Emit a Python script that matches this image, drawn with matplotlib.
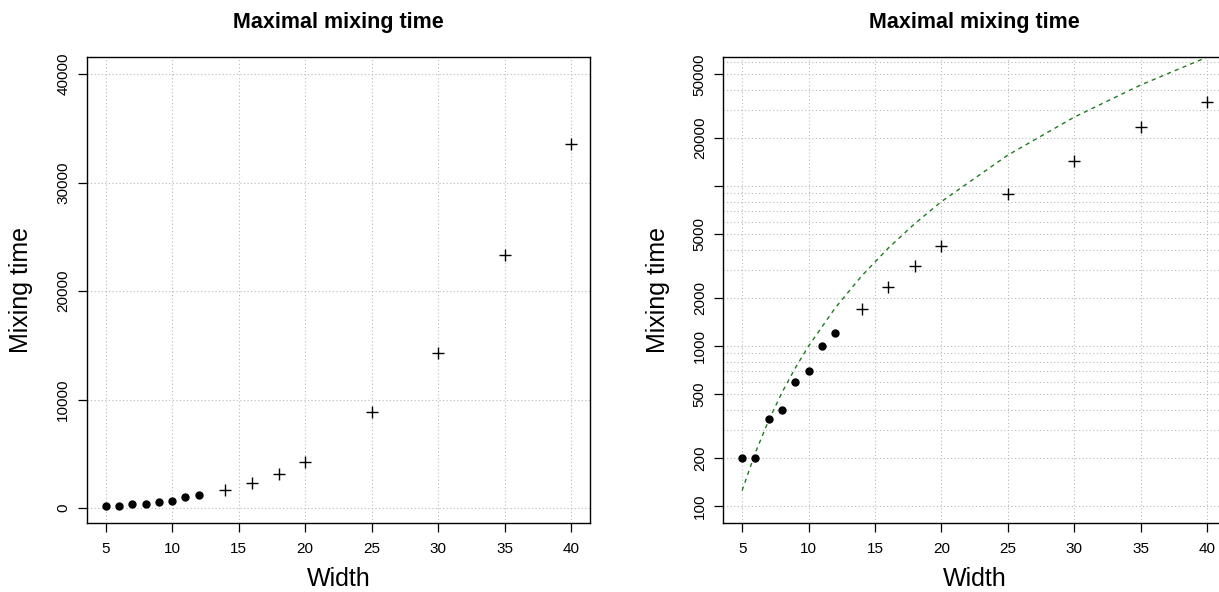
import matplotlib
matplotlib.use("Agg")
import matplotlib.pyplot as plt
from matplotlib.ticker import FixedLocator, FixedFormatter, NullLocator

plt.rcParams['font.family'] = ['Liberation Sans', 'DejaVu Sans']

# exact runs (dots) and estimated runs (crosses)
width_exact = [5, 6, 7, 8, 9, 10, 11, 12]
time_exact = [200, 200, 350, 400, 600, 700, 1000, 1200]
width_est = [14, 16, 18, 20, 25, 30, 35, 40]
time_est = [1700, 2350, 3170, 4240, 8900, 14300, 23300, 33600]

# dashed green bound curve
width_bound = [5, 6, 7, 8, 9, 10, 12, 14, 16, 18, 20, 25, 30, 35, 40]
time_bound = [125, 216, 343, 512, 729, 1000, 1728, 2744, 4096, 5832,
              8000, 15625, 27000, 42875, 64000]

x_ticks = [5, 10, 15, 20, 25, 30, 35, 40]
lin_ticks = [0, 10000, 20000, 30000, 40000]
log_ticks = [100, 200, 500, 1000, 2000, 5000, 10000, 20000, 50000]
log_labels = ['100', '200', '500', '1000', '2000', '5000', '', '20000', '50000']

TICK_FS = 11
LAB_FS = 18
TITLE_FS = 15.5
GRID = dict(color='#b8b8b8', linewidth=0.8, linestyle=(0, (1, 2.2)), zorder=0)

fig = plt.figure(figsize=(12.19, 5.92), dpi=100)
ax1 = fig.add_axes([87 / 1219, 0.116, 503 / 1219, 0.788])
ax2 = fig.add_axes([723.5 / 1219, 0.116, 502.2 / 1219, 0.788])


def style(ax):
    for s in ax.spines.values():
        s.set_linewidth(1.0)
        s.set_color('black')
    ax.set_xlim(3.6, 41.4)
    ax.xaxis.set_major_locator(FixedLocator(x_ticks))
    ax.tick_params(axis='both', direction='out', length=6.5, width=0.9,
                   labelsize=TICK_FS, color='black')
    ax.tick_params(axis='x', pad=6.8)
    ax.tick_params(axis='y', pad=5.5)
    ax.tick_params(axis='x', which='both', top=False)
    ax.tick_params(axis='y', which='both', right=False)
    for lab in ax.get_yticklabels():
        lab.set_rotation(90)
        lab.set_va('center')
    for x in x_ticks:
        ax.axvline(x, **GRID)
    ax.set_xlabel('Width', fontsize=LAB_FS)
    ax.set_ylabel('Mixing time', fontsize=LAB_FS)
    ax.xaxis.set_label_coords(0.5, -0.094)
    ax.yaxis.set_label_coords(-0.107, 0.5)
    ax.set_title('Maximal mixing time', fontsize=TITLE_FS, fontweight='bold',
                 y=1.0615, pad=0)


# left panel: linear scale
ax1.set_ylim(-1392, 41592)
ax1.yaxis.set_major_locator(FixedLocator(lin_ticks))
ax1.yaxis.set_major_formatter(FixedFormatter([str(t) for t in lin_ticks]))
for y in lin_ticks:
    ax1.axhline(y, **GRID)
ax1.plot(width_exact, time_exact, 'o', color='black', markersize=5, zorder=3)
ax1.plot(width_est, time_est, '+', color='black', markersize=8,
         markeredgewidth=1.0, zorder=3)
style(ax1)

# right panel: log scale with the bound curve
ax2.set_yscale('log')
ax2.set_ylim(78, 64300)
ax2.yaxis.set_major_locator(FixedLocator(log_ticks))
ax2.yaxis.set_major_formatter(FixedFormatter(log_labels))
ax2.yaxis.set_minor_locator(NullLocator())
grid_levels = [m * 10 ** k for k in (2, 3, 4) for m in range(1, 10)]
for y in grid_levels:
    if y <= 64300:
        ax2.axhline(y, **GRID)
ax2.plot(width_bound, time_bound, color='#1e7b1e', linewidth=1.0,
         linestyle=(0, (3, 3)), zorder=2)
ax2.plot(width_exact, time_exact, 'o', color='black', markersize=5, zorder=3)
ax2.plot(width_est, time_est, '+', color='black', markersize=8,
         markeredgewidth=1.0, zorder=3)
style(ax2)

fig.savefig('out.png', dpi=100)
